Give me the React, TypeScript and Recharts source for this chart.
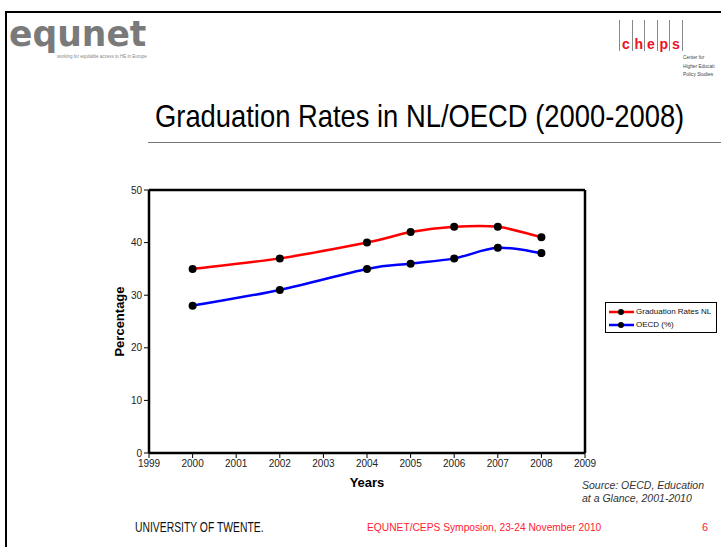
import React from "react";
import {
  LineChart,
  Line,
  XAxis,
  YAxis,
  ReferenceLine,
  Legend,
} from "recharts";

const years = [2000, 2002, 2004, 2005, 2006, 2007, 2008];
const nlRates = [35, 37, 40, 42, 43, 43, 41];
const oecdRates = [28, 31, 35, 36, 37, 39, 38];
const xTicks = [1999, 2000, 2001, 2002, 2003, 2004, 2005, 2006, 2007, 2008, 2009];
const yTicks = [0, 10, 20, 30, 40, 50];
const seriesNames = ["Graduation Rates NL", "OECD (%)"];

const data = years.map((y, i) => ({ year: y, nl: nlRates[i], oecd: oecdRates[i] }));

const ARIAL = "'Liberation Sans', Arial, sans-serif";

// Catmull-Rom like smoothing (Excel "smoothed line")
function smoothCurve(context: any) {
  let pts: number[][] = [];
  return {
    areaStart() {},
    areaEnd() {},
    lineStart() {
      pts = [];
    },
    point(x: number, y: number) {
      pts.push([+x, +y]);
    },
    lineEnd() {
      if (!pts.length) return;
      context.moveTo(pts[0][0], pts[0][1]);
      for (let i = 0; i < pts.length - 1; i++) {
        const p0 = pts[i - 1] || pts[i];
        const p1 = pts[i];
        const p2 = pts[i + 1];
        const p3 = pts[i + 2] || pts[i + 1];
        const c1x = p1[0] + (p2[0] - p0[0]) / 6;
        const c1y = p1[1] + (p2[1] - p0[1]) / 6;
        const c2x = p2[0] - (p3[0] - p1[0]) / 6;
        const c2y = p2[1] - (p3[1] - p1[1]) / 6;
        context.bezierCurveTo(c1x, c1y, c2x, c2y, p2[0], p2[1]);
      }
    },
  };
}

const LegendBox = (props: any) => {
  const payload = props.payload || [];
  return (
    <div
      style={{
        border: "1px solid #000",
        background: "#fff",
        width: 112,
        height: 31,
        boxSizing: "border-box",
        paddingTop: 2,
      }}
    >
      {payload.map((p: any, i: number) => (
        <div key={i} style={{ display: "flex", alignItems: "center", height: 13, whiteSpace: "nowrap" }}>
          <svg width={30} height={10} style={{ marginLeft: 2, flex: "none" }}>
            <line x1={1} y1={5} x2={26} y2={5} stroke={p.color} strokeWidth={2.5} />
            <circle cx={13} cy={5} r={3} fill="#000" />
          </svg>
          <span style={{ fontFamily: ARIAL, fontSize: 8, color: "#111", marginLeft: -2 }}>
            {p.value}
          </span>
        </div>
      ))}
    </div>
  );
};

const narrow = (scale: number): React.CSSProperties => ({
  transform: `scaleX(${scale})`,
  transformOrigin: "left center",
});

export default function App() {
  return (
    <div
      style={{
        position: "absolute",
        left: 0,
        top: 0,
        width: 721,
        height: 547,
        background: "#fff",
        overflow: "hidden",
      }}
    >
      {/* slide border */}
      <div style={{ position: "absolute", left: 5, top: 11, width: 716, height: 2, background: "#000" }} />
      <div style={{ position: "absolute", left: 5, top: 11, width: 2, height: 536, background: "#000" }} />

      {/* equnet logo */}
      <div
        style={{
          position: "absolute",
          left: 9,
          top: 14,
          fontFamily: "'DejaVu Sans', sans-serif",
          fontWeight: 900,
          fontSize: 36,
          color: "#7a7a7a",
          lineHeight: "40px",
          ...narrow(0.96),
        }}
      >
        equnet
      </div>
      <div
        style={{
          position: "absolute",
          left: 57,
          top: 54,
          fontFamily: ARIAL,
          fontSize: 4.5,
          color: "#888",
          whiteSpace: "nowrap",
        }}
      >
        working for equitable access to HE in Europe
      </div>

      {/* cheps logo */}
      <div style={{ position: "absolute", left: 619, top: 20, height: 32, display: "flex" }}>
        {["c", "h", "e", "p", "s"].map((ch, i) => (
          <div
            key={i}
            style={{
              borderLeft: "1px solid #888",
              width: 11.5,
              height: 31,
              position: "relative",
            }}
          >
            <span
              style={{
                position: "absolute",
                bottom: 0,
                left: 2,
                fontFamily: ARIAL,
                fontWeight: 700,
                fontSize: 14,
                color: "#ee1122",
                lineHeight: "14px",
              }}
            >
              {ch}
            </span>
          </div>
        ))}
        <div style={{ borderLeft: "1px solid #888", height: 31 }} />
      </div>
      <div
        style={{
          position: "absolute",
          left: 683,
          top: 53,
          fontFamily: ARIAL,
          fontSize: 6,
          lineHeight: "8.5px",
          color: "#444",
          whiteSpace: "nowrap",
          ...narrow(0.8),
        }}
      >
        Center for
        <br />
        Higher Educati
        <br />
        Policy Studies
      </div>

      {/* title */}
      <div
        style={{
          position: "absolute",
          left: 155,
          top: 98,
          fontFamily: ARIAL,
          fontSize: 32,
          lineHeight: "36px",
          color: "#000",
          whiteSpace: "nowrap",
          ...narrow(0.855),
        }}
      >
        Graduation Rates in NL/OECD (2000-2008)
      </div>
      <div style={{ position: "absolute", left: 148, top: 142, width: 573, height: 1, background: "#777" }} />

      {/* chart */}
      <div style={{ position: "absolute", left: 0, top: 0 }}>
        <LineChart
          width={721}
          height={547}
          data={data}
          margin={{ top: 190, right: 136, bottom: 64, left: 109 }}
        >
          <XAxis
            dataKey="year"
            type="number"
            domain={[1999, 2009]}
            ticks={xTicks}
            interval={0}
            allowDecimals={false}
            height={30}
            axisLine={{ stroke: "#000", strokeWidth: 2.5 }}
            tickLine={{ stroke: "#000", strokeWidth: 1 }}
            tickSize={5}
            tick={{ fill: "#222", fontSize: 10, fontFamily: ARIAL }}
            label={{
              value: "Years",
              position: "insideBottom",
              offset: -4,
              style: { fontFamily: ARIAL, fontSize: 13, fontWeight: 700, fill: "#000" },
            }}
          />
          <YAxis
            type="number"
            domain={[0, 50]}
            ticks={yTicks}
            interval={0}
            width={40}
            axisLine={{ stroke: "#000", strokeWidth: 2.5 }}
            tickLine={{ stroke: "#000", strokeWidth: 1 }}
            tickSize={5}
            tick={{ fill: "#222", fontSize: 10, fontFamily: ARIAL }}
            label={{
              value: "Percentage",
              angle: -90,
              position: "center",
              dx: -10,
              style: { fontFamily: ARIAL, fontSize: 13, fontWeight: 700, fill: "#000", textAnchor: "middle" },
            }}
          />
          <ReferenceLine y={50} stroke="#000" strokeWidth={2.5} ifOverflow="visible" />
          <ReferenceLine x={2009} stroke="#000" strokeWidth={2.5} ifOverflow="visible" />
          <Legend
            layout="vertical"
            align="center"
            verticalAlign="middle"
            content={<LegendBox />}
            wrapperStyle={{ position: "absolute", left: 605, top: 302, width: 112, height: 31 }}
          />
          <Line
            name={seriesNames[0]}
            dataKey="nl"
            type={smoothCurve as any}
            stroke="#ff0000"
            strokeWidth={2.5}
            dot={{ r: 4, fill: "#000", stroke: "#000", strokeWidth: 0 }}
            activeDot={false}
            isAnimationActive={false}
          />
          <Line
            name={seriesNames[1]}
            dataKey="oecd"
            type={smoothCurve as any}
            stroke="#0000ff"
            strokeWidth={2.5}
            dot={{ r: 4, fill: "#000", stroke: "#000", strokeWidth: 0 }}
            activeDot={false}
            isAnimationActive={false}
          />
        </LineChart>
      </div>

      {/* source */}
      <div
        style={{
          position: "absolute",
          left: 582,
          top: 479,
          fontFamily: ARIAL,
          fontStyle: "italic",
          fontSize: 10.5,
          lineHeight: "13px",
          color: "#333",
          whiteSpace: "nowrap",
        }}
      >
        Source: OECD, Education
        <br />
        at a Glance, 2001-2010
      </div>

      {/* footer */}
      <div
        style={{
          position: "absolute",
          left: 135,
          top: 519,
          fontFamily: ARIAL,
          fontSize: 14,
          color: "#111",
          whiteSpace: "nowrap",
          ...narrow(0.74),
        }}
      >
        UNIVERSITY OF TWENTE.
      </div>
      <div
        style={{
          position: "absolute",
          left: 367,
          top: 521,
          fontFamily: ARIAL,
          fontSize: 11,
          color: "#ff2030",
          whiteSpace: "nowrap",
          ...narrow(0.93),
        }}
      >
        EQUNET/CEPS Symposion, 23-24 November 2010
      </div>
      <div
        style={{
          position: "absolute",
          left: 702,
          top: 521,
          fontFamily: ARIAL,
          fontSize: 11,
          color: "#ff2030",
        }}
      >
        6
      </div>
    </div>
  );
}
